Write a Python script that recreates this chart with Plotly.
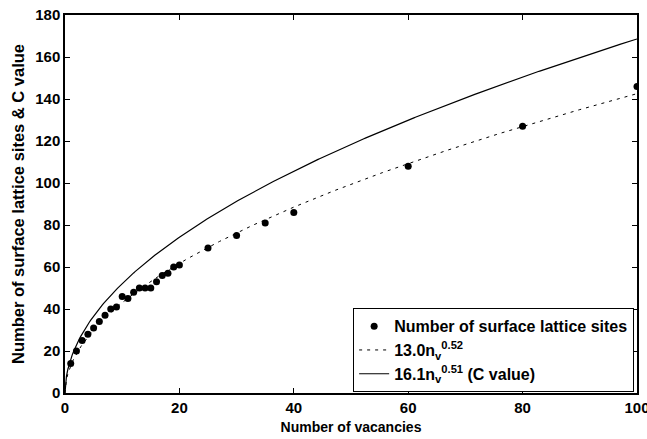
import numpy as np
import plotly.graph_objects as go

# Measured data: number of surface lattice sites vs number of vacancies
vacancies = [1, 2, 3, 4, 5, 6, 7, 8, 9, 10, 11, 12, 13, 14, 15, 16, 17, 18, 19, 20,
             25, 30, 35, 40, 60, 80, 100]
surface_sites = [14, 20, 25, 28, 31, 34, 37, 40, 41, 46, 45, 48, 50, 50, 50, 53, 56, 57, 60, 61,
                 69, 75, 81, 86, 108, 127, 146]

# Fit coefficients stated in the legend
fit_a, fit_b = 13.0, 0.52
c_a, c_b = 16.1, 0.51

x_ticks = [0, 20, 40, 60, 80, 100]
y_ticks = [0, 20, 40, 60, 80, 100, 120, 140, 160, 180]

nv = np.linspace(0, 100, 401)

fig = go.Figure()
fig.add_trace(go.Scatter(
    x=vacancies, y=surface_sites, mode="markers",
    marker=dict(color="black", size=7),
    name="Number of surface lattice sites"))
fig.add_trace(go.Scatter(
    x=nv, y=fit_a * nv ** fit_b, mode="lines",
    line=dict(color="black", width=1, dash="3px,5px"),
    name="13.0n<sub>v</sub><sup>0.52</sup>"))
fig.add_trace(go.Scatter(
    x=nv, y=c_a * nv ** c_b, mode="lines",
    line=dict(color="black", width=1.2),
    name="16.1n<sub>v</sub><sup>0.51</sup> (C value)"))

font_family = "Liberation Sans, Arial, sans-serif"
axis_common = dict(
    showline=True, linecolor="black", linewidth=1.5, mirror="ticks",
    ticks="inside", ticklen=5, tickwidth=1, tickcolor="black",
    showgrid=False, zeroline=False, automargin=False,
    ticklabeloverflow="allow",
    tickfont=dict(family=font_family, size=15, color="black", weight="bold"),
)

fig.update_layout(
    width=647, height=439,
    margin=dict(l=65, r=10, t=15, b=46),
    paper_bgcolor="white", plot_bgcolor="white",
    font=dict(family=font_family, color="black"),
    xaxis=dict(range=[0, 100], tickvals=x_ticks,
               title=dict(text="<b>Number of vacancies</b>", font=dict(size=14), standoff=7),
               **axis_common),
    yaxis=dict(range=[0, 180], tickvals=y_ticks,
               title=dict(text="<b>Number of surface lattice sites &amp; C value</b>", font=dict(size=16.5), standoff=6),
               **axis_common),
    legend=dict(x=0.995, y=0.002, xanchor="right", yanchor="bottom",
                bordercolor="black", borderwidth=1, bgcolor="white",
                font=dict(family=font_family, size=16, color="black", weight="bold"),
                tracegroupgap=0, itemwidth=30),
    showlegend=True,
)

fig.write_html("out.html")
